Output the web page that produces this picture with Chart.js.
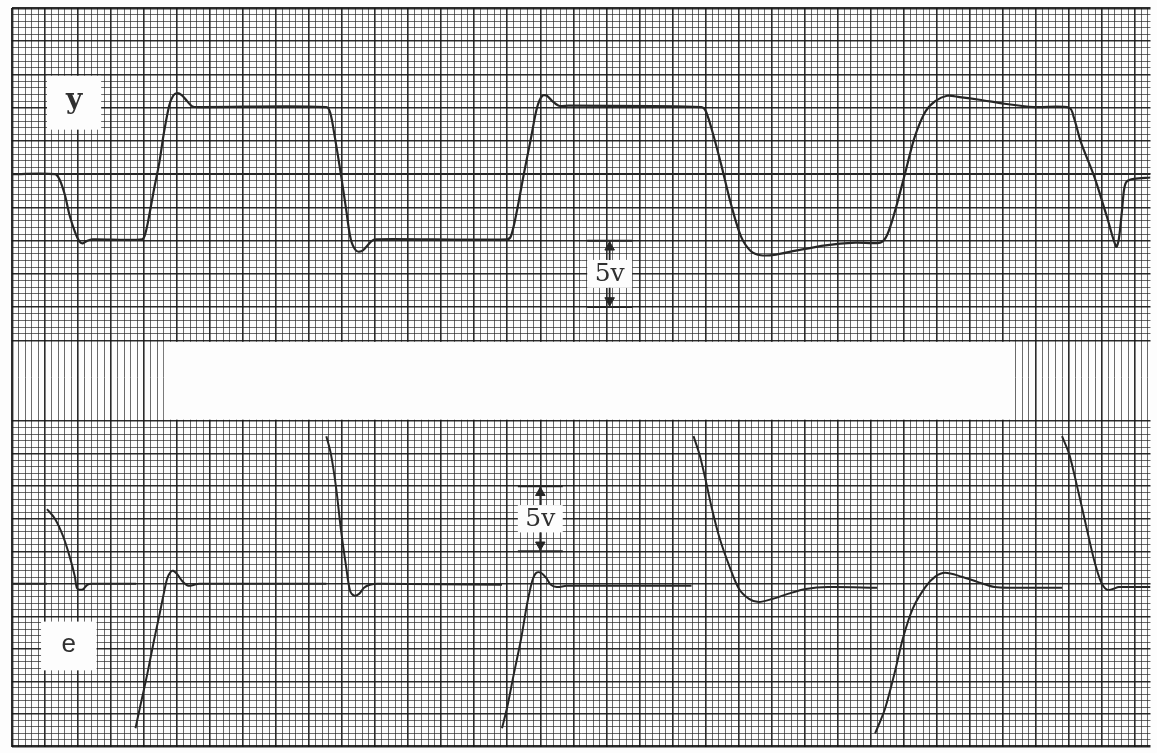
<!DOCTYPE html>
<html>
<head>
<meta charset="utf-8">
<title>y / e recorder strip</title>
<script src="https://cdn.jsdelivr.net/npm/chart.js@4.4.1/dist/chart.umd.min.js"></script>
<style>
  html, body { margin: 0; padding: 0; background: #fff; }
  #strip { display: block; }
</style>
</head>
<body>
<canvas id="strip" width="1157" height="753"></canvas>
<script>
// everything is read in small chart divisions (10 divisions up = 5 volts)

// upper channel: output y
var yTime = [0, 6.5, 7.2, 8.0, 8.7, 9.5, 10.2, 10.7, 11.4, 12.2,
             19.7, 20.2, 20.8, 21.5, 22.3, 23.0, 23.8, 24.4, 25.0, 25.7,
             26.5, 27.3, 28.3, 47.6, 48.2, 48.9, 49.8, 50.6, 51.3, 52.1,
             52.9, 53.6, 54.4, 55.1, 75.0, 75.6, 76.5, 77.5, 78.6, 79.5,
             80.3, 81.0, 81.8, 82.8, 84.3, 104.4, 105.1, 106.2, 107.4, 108.9,
             110.4, 111.9, 113.4, 115.7, 118.7, 123.2, 127.7, 131.5, 132.5, 133.7,
             135.2, 136.7, 138.3, 139.8, 141.6, 143.5, 146.5, 150.3, 154.8, 160.1,
             160.8, 161.9, 163.9, 165.8, 167.2, 167.6, 168.1, 168.4, 168.8, 169.9,
             172.4];
var yDiv  = [0, 0, -0.8, -3.1, -6.1, -8.6, -10.1, -10.4, -10.0, -9.8,
             -9.8, -8.9, -6.1, -2.3, 1.7, 6.2, 10.3, 11.8, 12.2, 11.9,
             11.0, 10.2, 10.1, 10.1, 9.2, 5.5, 0, -5.3, -9.8, -11.5,
             -11.6, -11.0, -10.1, -9.8, -9.8, -9.2, -5.3, 0, 5.5, 10.0,
             11.8, 11.8, 11.0, 10.3, 10.3, 10.1, 9.4, 5.9, 1.4, -4.6,
             -9.4, -11.6, -12.2, -12.1, -11.5, -10.7, -10.3, -10.3, -9.2, -5.6,
             0, 5.6, 9.4, 11.0, 11.8, 11.6, 11.2, 10.6, 10.1, 10.0,
             8.5, 4.7, -0.4, -6.4, -10.9, -9.8, -5.3, -2.3, -1.1, -0.7,
             -0.5];

// lower channel: error e (null = pen jump, nothing drawn)
var eTime = [0, 5.3, 5.3,
             5.3, 6.5, 7.7, 8.7, 9.5, 9.8, 10.2, 10.8, 11.4, 12.1, 18.8, 18.8,
             18.7, 19.4, 20.5, 21.5, 22.4, 23.0, 23.5, 24.0, 24.4, 25.0, 25.8, 26.7, 27.6, 28.3, 47.6, 47.6,
             47.6, 48.3, 49.1, 49.8, 50.6, 51.2, 51.8, 52.6, 53.3, 54.2, 55.4, 74.2, 74.2,
             74.2, 75.0, 76.0, 77.1, 78.0, 78.8, 79.4, 80.1, 80.9, 81.6, 82.5, 84.0, 102.9, 102.9,
             103.2, 104.1, 105.0, 106.0, 107.1, 108.6, 110.1, 111.6, 113.1, 115.2, 117.6, 120.2, 123.6, 131.0, 131.0,
             130.7, 132.2, 133.7, 134.9, 136.4, 138.3, 139.8, 141.3, 143.8, 146.2, 148.8, 151.8, 159.0, 159.0,
             159.0, 160.1, 161.3, 162.7, 163.9, 164.9, 165.8, 166.7, 167.6, 172.4];
var eDiv  = [0, 0, null,
             11.5, 10.0, 7.4, 4.3, 1.2, -0.6, -0.9, -0.8, -0.15, 0, 0, null,
             -22.2, -18.9, -13.8, -8.7, -4.4, -1.4, 0.8, 1.8, 2.0, 1.5, 0.4, -0.3, -0.15, 0, 0, null,
             22.7, 19.9, 14.6, 8.4, 2.6, -1.1, -1.8, -1.5, -0.6, -0.15, 0, -0.15, null,
             -22.2, -18.9, -13.8, -8.4, -3.1, 0.5, 1.7, 1.7, 0.9, -0.15, -0.5, -0.3, -0.3, null,
             22.7, 19.9, 16.1, 11.5, 7.2, 2.8, -0.8, -2.3, -2.8, -2.3, -1.5, -0.8, -0.5, -0.6, null,
             -23.0, -19.2, -13.5, -8.4, -3.8, -0.5, 1.1, 1.7, 1.1, 0.3, -0.5, -0.6, -0.6, null,
             22.7, 19.9, 14.9, 8.7, 3.5, 0.3, -0.9, -0.8, -0.5, -0.5];

// the two "5v" calibration marks
var markTime = [90.5, 80.0];
var markFrom = [-10, 15];
var markTo   = [-20, 5];
var markAxis = ['yTop', 'yBot'];
var markText = '5v';

var channelNames = ['y', 'e'];

var ink = '#262626';

function points(xs, ys) {
    var out = [];
    for (var i = 0; i < xs.length; i++) {
        out.push({x: xs[i], y: ys[i]});
    }
    return out;
}

function tickRange(a, b) {
    var t = [];
    for (var v = a; v <= b; v++) t.push({value: v});
    return t;
}

function gridColor(c) {
    return (c.tick && c.tick.value % 5 === 0) ? 'rgba(20,20,20,0.9)' : 'rgba(35,35,35,0.68)';
}
function gridWidth(edge) {
    return function(c) {
        if (!c.tick) return 1;
        if (c.tick.value === edge) return 2.4;
        return c.tick.value % 5 === 0 ? 1.6 : 1;
    };
}

var datasets = [];

// pen baseline of the y channel, runs across the whole strip
datasets.push({
    data: points([0, 172.4], [0, 0]),
    yAxisID: 'yTop', borderColor: ink, borderWidth: 1.8, pointRadius: 0, tension: 0
});
datasets.push({
    data: points(yTime, yDiv),
    yAxisID: 'yTop', borderColor: ink, borderWidth: 2.2, pointRadius: 0,
    tension: 0.3
});
datasets.push({
    data: points(eTime, eDiv),
    yAxisID: 'yBot', borderColor: ink, borderWidth: 2, pointRadius: 0,
    tension: 0.3, spanGaps: false
});

for (var i = 0; i < markTime.length; i++) {
    var t = markTime[i], a = markFrom[i], b = markTo[i];
    var mid = (a + b) / 2;
    datasets.push({
        data: [{x: t - 3.4, y: a}, {x: t + 3.4, y: a}, {x: t + 3.4, y: null},
               {x: t - 3.4, y: b}, {x: t + 3.4, y: b}],
        yAxisID: markAxis[i], borderColor: ink, borderWidth: 2, pointRadius: 0, tension: 0
    });
    datasets.push({
        data: [{x: t, y: a}, {x: t, y: mid + 2.1}, {x: t, y: null},
               {x: t, y: mid - 2.1}, {x: t, y: b}],
        yAxisID: markAxis[i], borderColor: ink, borderWidth: 1.8, pointRadius: 0, tension: 0
    });
    datasets.push({
        data: [{x: t, y: a - 1.0}, {x: t, y: b + 1.0}],
        yAxisID: markAxis[i], showLine: false,
        pointStyle: 'triangle', pointRadius: 5.5, pointRotation: [0, 180],
        pointBackgroundColor: ink, pointBorderColor: ink, pointBorderWidth: 1
    });
}

var paperPlugin = {
    id: 'paper',
    beforeDraw: function(chart) {
        var ctx = chart.ctx;
        ctx.save();
        ctx.fillStyle = '#fdfdfd';
        ctx.fillRect(0, 0, chart.width, chart.height);
        ctx.restore();
    },
    beforeDatasetsDraw: function(chart) {
        var ctx = chart.ctx;
        var sx = chart.scales.x, yt = chart.scales.yTop, yb = chart.scales.yBot;
        ctx.save();
        ctx.fillStyle = '#fdfdfd';

        // blank label strip between the two channels
        var l = sx.getPixelForValue(23), r = sx.getPixelForValue(151.5);
        var top = yt.getPixelForValue(-25) + 1.5, bot = yb.getPixelForValue(25) - 1.5;
        ctx.fillRect(l, top, r - l, bot - top);

        // channel name plates
        var plates = [
            {s: yt, x0: 5.3, x1: 13.5, v0: 14.8, v1: 6.7, font: 'bold 28px "DejaVu Serif"', dy: -2},
            {s: yb, x0: 4.4, x1: 12.8, v0: -5.8, v1: -13.3, font: '26px "Liberation Sans"', dy: -1}
        ];
        plates.forEach(function(p, k) {
            var px0 = sx.getPixelForValue(p.x0), px1 = sx.getPixelForValue(p.x1);
            var py0 = p.s.getPixelForValue(p.v0), py1 = p.s.getPixelForValue(p.v1);
            ctx.fillStyle = '#fdfdfd';
            ctx.fillRect(px0, py0, px1 - px0, py1 - py0);
            ctx.fillStyle = '#303030';
            ctx.font = p.font;
            ctx.textAlign = 'center';
            ctx.textBaseline = 'middle';
            ctx.fillText(channelNames[k], (px0 + px1) / 2, (py0 + py1) / 2 + p.dy);
        });

        // boxes behind the 5v labels
        for (var i = 0; i < markTime.length; i++) {
            var s = chart.scales[markAxis[i]];
            var mid = (markFrom[i] + markTo[i]) / 2;
            var bx0 = sx.getPixelForValue(markTime[i] - 3.4), bx1 = sx.getPixelForValue(markTime[i] + 3.4);
            var by0 = s.getPixelForValue(mid + 2.1), by1 = s.getPixelForValue(mid - 2.1);
            ctx.fillStyle = '#fdfdfd';
            ctx.fillRect(bx0, by0, bx1 - bx0, by1 - by0);
            ctx.fillStyle = '#303030';
            ctx.font = '25px "DejaVu Serif"';
            ctx.textAlign = 'center';
            ctx.textBaseline = 'middle';
            ctx.fillText(markText, (bx0 + bx1) / 2, (by0 + by1) / 2 + 1);
        }
        ctx.restore();
    }
};

new Chart(document.getElementById('strip'), {
    type: 'line',
    data: { datasets: datasets },
    plugins: [paperPlugin],
    options: {
        responsive: false,
        animation: false,
        events: [],
        layout: { padding: { left: 12, top: 8, right: 0, bottom: 5 } },
        plugins: { legend: { display: false }, tooltip: { enabled: false } },
        scales: {
            x: {
                type: 'linear', min: 0, max: 172.4,
                afterBuildTicks: function(s) { s.ticks = tickRange(0, 172); },
                ticks: { display: false },
                grid: { color: gridColor, lineWidth: gridWidth(0), drawTicks: false },
                border: { display: false }
            },
            yTop: {
                type: 'linear', position: 'left', min: -86.1, max: 25,
                afterBuildTicks: function(s) { s.ticks = tickRange(-25, 25); },
                ticks: { display: false },
                grid: { color: gridColor, lineWidth: gridWidth(25), drawTicks: false },
                border: { display: false }
            },
            yBot: {
                type: 'linear', position: 'left', min: -25, max: 88.5,
                afterBuildTicks: function(s) { s.ticks = tickRange(-25, 25); },
                ticks: { display: false },
                grid: { color: gridColor, lineWidth: gridWidth(-25), drawTicks: false },
                border: { display: false }
            }
        }
    }
});
</script>
</body>
</html>
